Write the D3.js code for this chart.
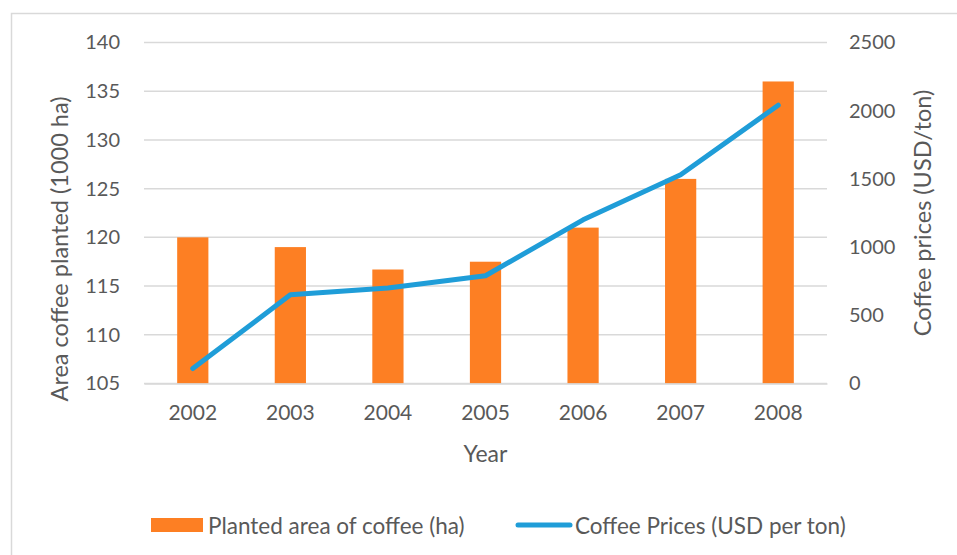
<!DOCTYPE html>
<html>
<head>
<meta charset="utf-8">
<script src="https://cdn.jsdelivr.net/npm/d3@7"></script>
<style>
  body { margin: 0; background: #fff; }
  svg text { font-family: Lato, "Open Sans", sans-serif; fill: #595959; }
</style>
</head>
<body>
<svg id="chart"></svg>
<script>
'use strict';

// chart data
const years = ['2002', '2003', '2004', '2005', '2006', '2007', '2008'];
const plantedArea = [120, 119, 116.7, 117.5, 121, 126, 136];
const coffeePrices = [110, 650, 700, 790, 1200, 1530, 2040];
const areaTicks = [105, 110, 115, 120, 125, 130, 135, 140];
const priceTicks = [0, 500, 1000, 1500, 2000, 2500];

const width = 957;
const height = 555;
const plot = {left: 144, right: 827, top: 42.5, bottom: 383.5};
const barColor = '#FD7F23';
const lineColor = '#1F9DD8';
const gridColor = '#D9D9D9';

const svg = d3.select('#chart')
    .attr('width', width)
    .attr('height', height);

// outer chart border
svg.append('rect')
    .attr('x', 11.5)
    .attr('y', 13.5)
    .attr('width', width)
    .attr('height', height)
    .attr('fill', 'none')
    .attr('stroke', gridColor)
    .attr('stroke-width', 1.5);

const x = d3.scaleBand()
    .domain(years)
    .range([plot.left, plot.right])
    .paddingInner(0.68)
    .paddingOuter(0.34);
const xCenter = d3.scaleBand()
    .domain(years)
    .range([plot.left, plot.right]);
const yLeft = d3.scaleLinear()
    .domain([105, 140])
    .range([plot.bottom, plot.top]);
const yRight = d3.scaleLinear()
    .domain([0, 2500])
    .range([plot.bottom, plot.top]);

// gridlines
svg.append('g')
    .selectAll('line')
    .data(areaTicks)
    .enter().append('line')
    .attr('x1', plot.left)
    .attr('x2', plot.right)
    .attr('y1', (d) => yLeft(d))
    .attr('y2', (d) => yLeft(d))
    .attr('stroke', gridColor)
    .attr('stroke-width', 1.5);

// left axis labels
const leftAxis = d3.axisLeft(yLeft)
    .tickValues(areaTicks)
    .tickSize(0)
    .tickPadding(24);
const gLeft = svg.append('g')
    .attr('transform', 'translate(' + plot.left + ',0)')
    .call(leftAxis);
gLeft.select('.domain').remove();
gLeft.selectAll('text')
    .style('font-size', '20px')
    .style('fill', '#595959');

// right axis labels
const rightAxis = d3.axisRight(yRight)
    .tickValues(priceTicks)
    .tickFormat(d3.format('d'))
    .tickSize(0)
    .tickPadding(22);
const gRight = svg.append('g')
    .attr('transform', 'translate(' + plot.right + ',0)')
    .call(rightAxis);
gRight.select('.domain').remove();
gRight.selectAll('text')
    .style('font-size', '20px')
    .style('fill', '#595959');

// bars
svg.append('g')
    .selectAll('rect')
    .data(plantedArea)
    .enter().append('rect')
    .attr('x', (d, i) => x(years[i]))
    .attr('y', (d) => yLeft(d))
    .attr('width', x.bandwidth())
    .attr('height', (d) => yLeft(105) - yLeft(d))
    .attr('fill', barColor);

// bottom axis
const bottomAxis = d3.axisBottom(xCenter)
    .tickSize(0)
    .tickPadding(22);
const gBottom = svg.append('g')
    .attr('transform', 'translate(0,' + plot.bottom + ')')
    .call(bottomAxis);
gBottom.select('.domain')
    .attr('stroke', gridColor)
    .attr('stroke-width', 1.5);
gBottom.selectAll('text')
    .style('font-size', '21px')
    .style('fill', '#595959');

// price line
const line = d3.line()
    .x((d, i) => xCenter(years[i]) + xCenter.bandwidth() / 2)
    .y((d) => yRight(d));
svg.append('path')
    .datum(coffeePrices)
    .attr('d', line)
    .attr('fill', 'none')
    .attr('stroke', lineColor)
    .attr('stroke-width', 5)
    .attr('stroke-linecap', 'round')
    .attr('stroke-linejoin', 'round');

// axis titles
svg.append('text')
    .attr('transform', 'translate(68,249) rotate(-90)')
    .attr('text-anchor', 'middle')
    .style('font-size', '23.5px')
    .text('Area coffee planted (1000 ha)');
svg.append('text')
    .attr('transform', 'translate(931,213) rotate(-90)')
    .attr('text-anchor', 'middle')
    .style('font-size', '23.5px')
    .text('Coffee prices (USD/ton)');
svg.append('text')
    .attr('x', 485.5)
    .attr('y', 462)
    .attr('text-anchor', 'middle')
    .style('font-size', '23px')
    .text('Year');

// legend
const legend = svg.append('g');
legend.append('rect')
    .attr('x', 151)
    .attr('y', 518)
    .attr('width', 52)
    .attr('height', 14)
    .attr('fill', barColor);
legend.append('text')
    .attr('x', 208)
    .attr('y', 525)
    .attr('dominant-baseline', 'central')
    .style('font-size', '22.5px')
    .text('Planted area of coffee (ha)');
legend.append('line')
    .attr('x1', 518)
    .attr('x2', 570)
    .attr('y1', 525)
    .attr('y2', 525)
    .attr('stroke', lineColor)
    .attr('stroke-width', 5)
    .attr('stroke-linecap', 'round');
legend.append('text')
    .attr('x', 575)
    .attr('y', 525)
    .attr('dominant-baseline', 'central')
    .style('font-size', '22.5px')
    .text('Coffee Prices (USD per ton)');
</script>
</body>
</html>
